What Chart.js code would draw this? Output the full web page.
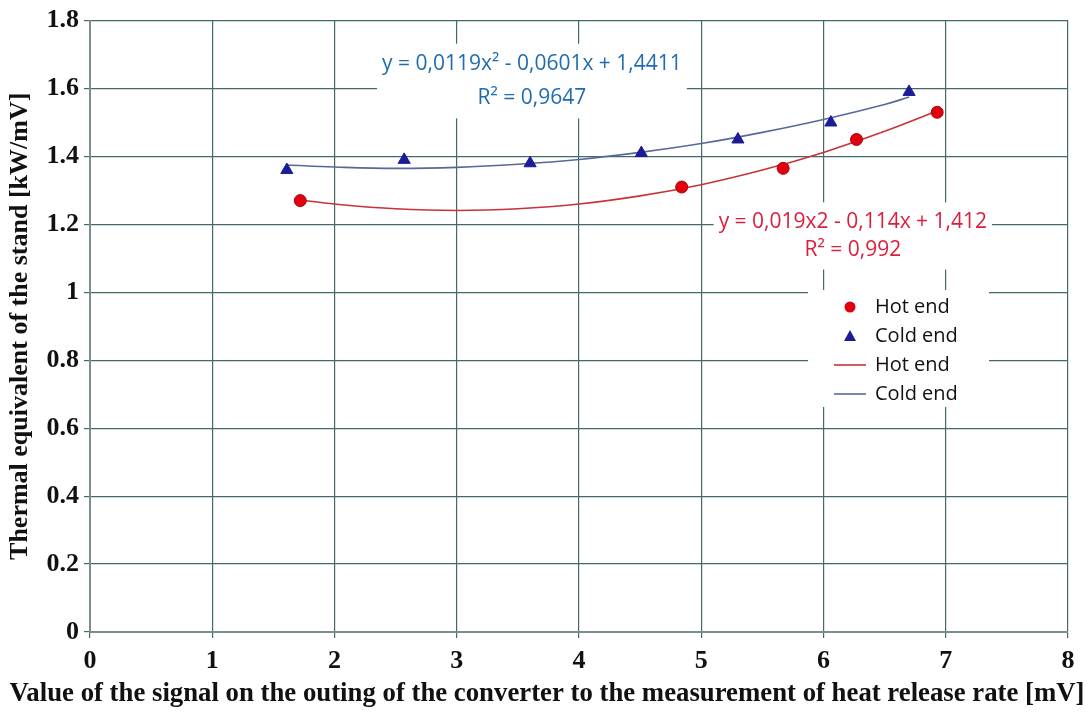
<!DOCTYPE html>
<html>
<head>
<meta charset="utf-8">
<script src="https://cdn.jsdelivr.net/npm/chart.js@4.4.0/dist/chart.umd.min.js"></script>
<style>
  html, body { margin: 0; padding: 0; background: #fff; }
  #wrap { width: 1091px; height: 713px; }
</style>
</head>
<body>
<div id="wrap"><canvas id="chart"></canvas></div>
<script>
// measured points
const hotX = [1.72, 4.84, 5.67, 6.27, 6.93];
const hotY = [1.27, 1.31, 1.365, 1.45, 1.53];
const coldX = [1.61, 2.57, 3.60, 4.51, 5.30, 6.06, 6.70];
const coldY = [1.36, 1.39, 1.38, 1.41, 1.45, 1.50, 1.59];

// trend curves (follow the printed equations)
const hotTrendX = [1.72, 2.0, 2.5, 3.0, 3.5, 4.0, 4.5, 5.0, 5.5, 6.0, 6.5, 6.93];
const hotTrendY = [1.272, 1.260, 1.246, 1.241, 1.246, 1.260, 1.284, 1.317, 1.360, 1.412, 1.474, 1.534];
const coldTrendX = [1.61, 2.0, 2.5, 3.0, 3.5, 4.0, 4.5, 5.0, 5.5, 6.0, 6.5, 6.70];
const coldTrendY = [1.375, 1.369, 1.365, 1.368, 1.377, 1.391, 1.412, 1.438, 1.471, 1.509, 1.553, 1.575];

const xTicks = [0, 1, 2, 3, 4, 5, 6, 7, 8];
const yTicks = [0, 0.2, 0.4, 0.6, 0.8, 1, 1.2, 1.4, 1.6, 1.8];

const coldEq = ["y = 0,0119x² - 0,0601x + 1,4411", "R² = 0,9647"];
const hotEq = ["y = 0,019x2 - 0,114x + 1,412", "R² = 0,992"];
const xTitle = "Value of the signal on the outing of the converter to the measurement of heat release rate [mV]";

const toPts = (xs, ys) => xs.map((x, i) => ({ x: x, y: ys[i] }));

const gridColor = "#44696a";
const tickFont = { family: "Liberation Serif", size: 26, weight: "bold" };

// equation boxes, legend and x title drawn on top
const overlay = {
  id: "overlay",
  afterDatasetsDraw(chart) {
    const ctx = chart.ctx;
    const xs = chart.scales.x, ys = chart.scales.y;
    ctx.save();
    ctx.font = "21px 'Open Sans'";
    ctx.textAlign = "center";
    ctx.textBaseline = "middle";

    function eqBox(lines, cx, cy1, cy2, color) {
      const px = xs.getPixelForValue(cx);
      const y1 = ys.getPixelForValue(cy1), y2 = ys.getPixelForValue(cy2);
      const w = Math.max(...lines.map(l => ctx.measureText(l).width));
      ctx.fillStyle = "#fff";
      ctx.fillRect(px - w / 2 - 5, y1 - 20, w + 10, y2 - y1 + 40);
      ctx.fillStyle = color;
      ctx.fillText(lines[0], px, y1);
      ctx.fillText(lines[1], px, y2);
    }
    eqBox(coldEq, 3.615, 1.673, 1.571, "#1f6cb0");
    eqBox(hotEq, 6.24, 1.206, 1.126, "#dc1e3c");

    // legend
    const lx = 808, ly = 290, lw = 181, lh = 117;
    ctx.fillStyle = "#fff";
    ctx.fillRect(lx, ly, lw, lh);
    ctx.font = "20px 'Open Sans'";
    ctx.textAlign = "left";
    chart.data.datasets.forEach((ds, i) => {
      const ry = ly + 17 + i * 29;
      const mx = lx + 42;
      if (ds.showLine) {
        ctx.strokeStyle = ds.borderColor;
        ctx.lineWidth = 1.6;
        ctx.beginPath();
        ctx.moveTo(mx - 16, ry);
        ctx.lineTo(mx + 16, ry);
        ctx.stroke();
      } else if (ds.pointStyle === "triangle") {
        ctx.fillStyle = ds.backgroundColor;
        ctx.beginPath();
        ctx.moveTo(mx, ry - 6);
        ctx.lineTo(mx + 6, ry + 5);
        ctx.lineTo(mx - 6, ry + 5);
        ctx.closePath();
        ctx.fill();
      } else {
        ctx.fillStyle = ds.backgroundColor;
        ctx.beginPath();
        ctx.arc(mx, ry, 5.5, 0, Math.PI * 2);
        ctx.fill();
      }
      ctx.fillStyle = "#111";
      ctx.fillText(ds.label, lx + 67, ry);
    });

    // x axis title (wider than the plot area, so drawn here)
    ctx.font = "bold 27.5px 'Liberation Serif'";
    ctx.textAlign = "center";
    ctx.fillStyle = "#111";
    ctx.fillText(xTitle, 547, 694, 1075);
    ctx.restore();
  }
};

new Chart(document.getElementById("chart"), {
  type: "scatter",
  data: {
    datasets: [
      {
        label: "Hot end",
        data: toPts(hotX, hotY),
        pointStyle: "circle",
        backgroundColor: "#e00010",
        borderColor: "#b00000",
        borderWidth: 1,
        pointRadius: 6,
        order: 0
      },
      {
        label: "Cold end",
        data: toPts(coldX, coldY),
        pointStyle: "triangle",
        backgroundColor: "#1c1c96",
        borderColor: "#1c1c96",
        borderWidth: 1,
        pointRadius: 7,
        order: 0
      },
      {
        label: "Hot end",
        data: toPts(hotTrendX, hotTrendY),
        showLine: true,
        borderColor: "#c8323a",
        borderWidth: 1.6,
        pointRadius: 0,
        tension: 0.4,
        fill: false,
        order: 1
      },
      {
        label: "Cold end",
        data: toPts(coldTrendX, coldTrendY),
        showLine: true,
        borderColor: "#56699a",
        borderWidth: 1.6,
        pointRadius: 0,
        tension: 0.4,
        fill: false,
        order: 1
      }
    ]
  },
  options: {
    responsive: true,
    maintainAspectRatio: false,
    animation: false,
    layout: { padding: { top: 20, right: 23, left: 0, bottom: 0 } },
    plugins: {
      legend: { display: false },
      tooltip: { enabled: false }
    },
    scales: {
      x: {
        type: "linear",
        min: 0,
        max: 8,
        afterBuildTicks: s => { s.ticks = xTicks.map(v => ({ value: v })); },
        afterFit: s => { s.height = 81; },
        grid: { color: gridColor, lineWidth: 1.2, tickLength: 6 },
        border: { color: "#7d8c8c", width: 2 },
        ticks: { color: "#111", font: tickFont, padding: 8, callback: v => String(v) },
        title: { display: false }
      },
      y: {
        type: "linear",
        min: 0,
        max: 1.8,
        afterBuildTicks: s => { s.ticks = yTicks.map(v => ({ value: v })); },
        afterFit: s => { s.width = 90; },
        grid: { color: gridColor, lineWidth: 1.2, tickLength: 6 },
        border: { color: "#7d8c8c", width: 2 },
        ticks: { color: "#111", font: tickFont, padding: 5, callback: v => String(v) },
        title: {
          display: true,
          text: "Thermal equivalent of the stand [kW/mV]",
          color: "#111",
          font: { family: "Liberation Serif", size: 26, weight: "bold" },
          padding: { top: 5, bottom: 4 }
        }
      }
    }
  },
  plugins: [overlay]
});
</script>
</body>
</html>
